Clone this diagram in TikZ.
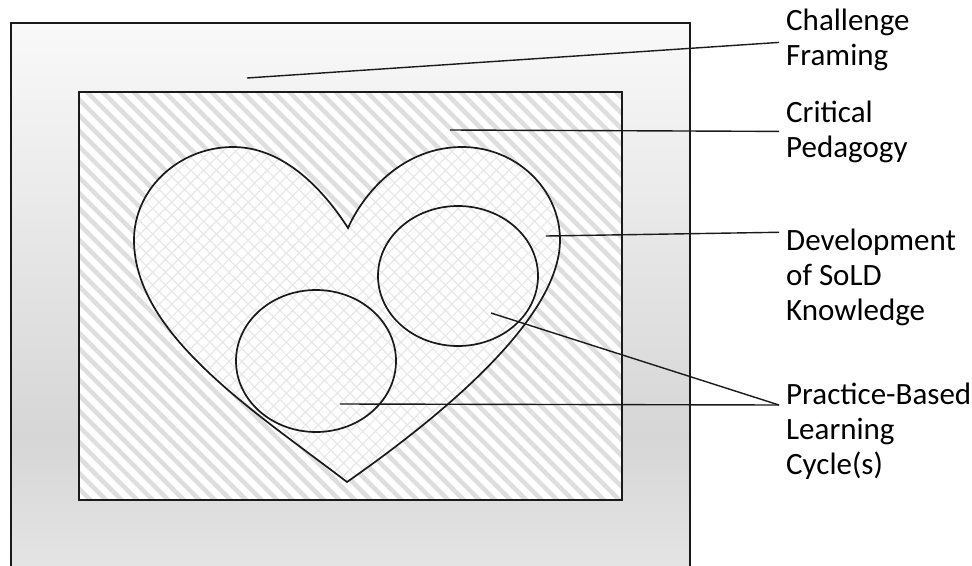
\documentclass[tikz,border=0pt]{standalone}
\usepackage{fontspec}
\setmainfont{Carlito}
\usetikzlibrary{patterns.meta}
\definecolor{bandtop}{HTML}{F9F9F9}
\definecolor{banddark}{HTML}{D6D6D6}
\definecolor{bandlow}{HTML}{E8E8E8}
\definecolor{stripegray}{HTML}{DEDEDE}
\definecolor{meshgray}{HTML}{E8E8E8}
\definecolor{inkline}{HTML}{1A1A1A}

\begin{document}
\begin{tikzpicture}[x=1pt, y=-1pt, font=\fontsize{31}{35}\selectfont]
    \tikzset{outline/.style={draw=inkline, line width=1.7pt},
             leader/.style={draw=inkline, line width=1.4pt},
             stripes/.style={preaction={fill=white}, pattern={Lines[angle=-45,distance=11pt,line width=4.5pt]}, pattern color=stripegray},
             mesh/.style={preaction={fill=white}, pattern={Hatch[angle=45,distance=9pt,line width=1.2pt]}, pattern color=meshgray},
             lbl/.style={anchor=base west, align=left, inner xsep=7pt, inner ysep=0pt}}
    \clip (0,0) rectangle (972,565);
    % outer band: Challenge Framing
    \shade[top color=bandtop, bottom color=banddark] (11,23) rectangle (690,436);
    \shade[top color=banddark, bottom color=bandlow] (11,435) rectangle (690,600);
    \draw[outline] (11,23) rectangle (690,600);
    % inner box: Critical Pedagogy
    \draw[outline, stripes] (79,92) rectangle (622,500);
    % heart
    \draw[outline, mesh] (347,482) .. controls (257,413) and (134,335) .. (134,240)
        .. controls (134,189) and (179,147) .. (233,147)
        .. controls (285,147) and (325,192) .. (348,228)
        .. controls (365,190) and (405,147) .. (462,147)
        .. controls (516,147) and (560,189) .. (560,240)
        .. controls (560,320) and (437,419) .. (347,482) -- cycle;
    % learning cycles
    \draw[outline, mesh] (458,276) ellipse [x radius=80, y radius=70];
    \draw[outline, mesh] (316,361) ellipse [x radius=80, y radius=71];
    % labels (anchored at the baseline of their last line)
    \node[lbl] (frame) at (779,65) {Challenge\\Framing};
    \node[lbl] (crit) at (779,157) {Critical\\Pedagogy};
    \node[lbl] (dev) at (779,320) {Development\\of SoLD\\Knowledge};
    \node[lbl] (prac) at (779,474) {Practice-Based\\Learning\\Cycle(s)};
    % leader lines
    \coordinate (cfa) at (247,78);
    \coordinate (cpa) at (450,130);
    \coordinate (dva) at (546,236);
    \coordinate (pba) at (491,313);
    \coordinate (pbb) at (340,404);
    \draw[leader] (cfa) -- ([yshift=-3pt]frame.west);
    \draw[leader] (cpa) -- (crit.west);
    \draw[leader] (dva) -- ([yshift=-4pt]dev.north west);
    \draw[leader] (pba) -- ([yshift=69pt]prac.base west);
    \draw[leader] (pbb) -- ([yshift=69pt]prac.base west);
\end{tikzpicture}
\end{document}
